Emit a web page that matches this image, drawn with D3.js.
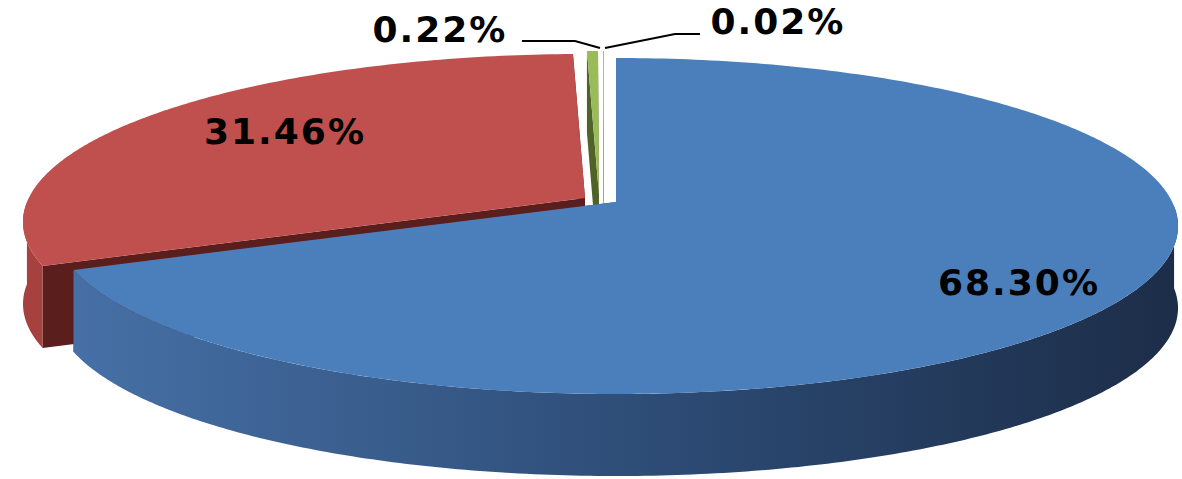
<!DOCTYPE html>
<html>
<head>
<meta charset="utf-8">
<script src="https://cdn.jsdelivr.net/npm/d3@7"></script>
<style>body{margin:0;background:#fff}</style>
</head>
<body>
<svg id="chart" width="1182" height="479"></svg>
<script>
var labels = ["68.30%", "31.46%", "0.22%", "0.02%"];
var values = [68.30, 31.46, 0.22, 0.02];
var topColors = ["#4b7fbc", "#c0504d", "#9bbb59", "#b3a2c7"];
var sideColors = ["#2b4a74", "#5a1f1c", "#4f6228", "#5f4a7b"];
var outerColors = ["url(#blueSide)", "#a5423f", "#4f6228", "#5f4a7b"];
var explode = [[14, 4], [-17, 0], [-3, -3], [2, -3]];

var svg = d3.select("#chart");
var cx = 602, cy = 222, rx = 562, ry = 168, depth = 82, lift = 24;

var pie = d3.pie().sort(null)(values);

var defs = svg.append("defs");
var g = defs.append("linearGradient").attr("id", "blueSide").attr("x1", 0).attr("x2", 1);
g.append("stop").attr("offset", 0).attr("stop-color", "#4670a6");
g.append("stop").attr("offset", 0.55).attr("stop-color", "#2c4a73");
g.append("stop").attr("offset", 1).attr("stop-color", "#1c2d48");

// perspective-ish warp of pie angle onto ellipse parameter
function warp(a) { return a + 0.21 * Math.sin(2 * a); }
function pt(a, off, dz) {
  var t = warp(a);
  return [cx + off[0] + rx * Math.sin(t), cy + off[1] - ry * Math.cos(t) + (dz || 0)];
}
function arcPts(a0, a1, off, dz) {
  var n = Math.max(2, Math.ceil((a1 - a0) / 0.01)), p = [];
  for (var i = 0; i <= n; i++) p.push(pt(a0 + (a1 - a0) * i / n, off, dz));
  return p;
}
var line = d3.line();

var slices = pie.map(function (d, i) { return {d: d, i: i, off: explode[i]}; });

var walls = svg.append("g"), tops = svg.append("g");

slices.forEach(function (s) {
  var off = s.off, c = [cx + off[0], cy + off[1] - lift];
  [s.d.startAngle, s.d.endAngle].forEach(function (a) {
    var p = pt(a, off);
    walls.append("path")
      .attr("d", line([c, p, [p[0], p[1] + depth], [c[0], c[1] + depth]]) + "Z")
      .attr("fill", sideColors[s.i]);
  });
});
slices.forEach(function (s) {
  var lo = Math.PI / 2 - 0.2, hi = Math.PI * 1.5 + 0.2;
  var a0 = Math.max(s.d.startAngle, lo), a1 = Math.min(s.d.endAngle, hi);
  if (a1 > a0) {
    var topArc = arcPts(a0, a1, s.off, 0), bot = arcPts(a0, a1, s.off, depth).reverse();
    walls.append("path")
      .attr("d", line(topArc.concat(bot)) + "Z")
      .attr("fill", outerColors[s.i]);
  }
});
slices.forEach(function (s) {
  var c = [cx + s.off[0], cy + s.off[1] - lift];
  tops.append("path")
    .attr("d", line([c].concat(arcPts(s.d.startAngle, s.d.endAngle, s.off, 0))) + "Z")
    .attr("fill", topColors[s.i]);
});

var labelPos = [[1019, 295], [285, 144], [440, 42], [778, 34]];
svg.selectAll("text.lbl").data(labels).enter().append("text")
  .attr("x", function (d, i) { return labelPos[i][0]; })
  .attr("y", function (d, i) { return labelPos[i][1]; })
  .attr("text-anchor", "middle")
  .attr("font-family", "DejaVu Sans")
  .attr("font-weight", "bold")
  .attr("font-size", 36)
  .attr("letter-spacing", 2)
  .text(function (d) { return d; });

var leaders = [[[522, 41], [575, 41], [600, 48]], [[605, 48], [675, 34], [700, 34]]];
leaders.forEach(function (l) {
  svg.append("path").attr("d", line(l)).attr("fill", "none").attr("stroke", "#000").attr("stroke-width", 2);
});
</script>
</body>
</html>
